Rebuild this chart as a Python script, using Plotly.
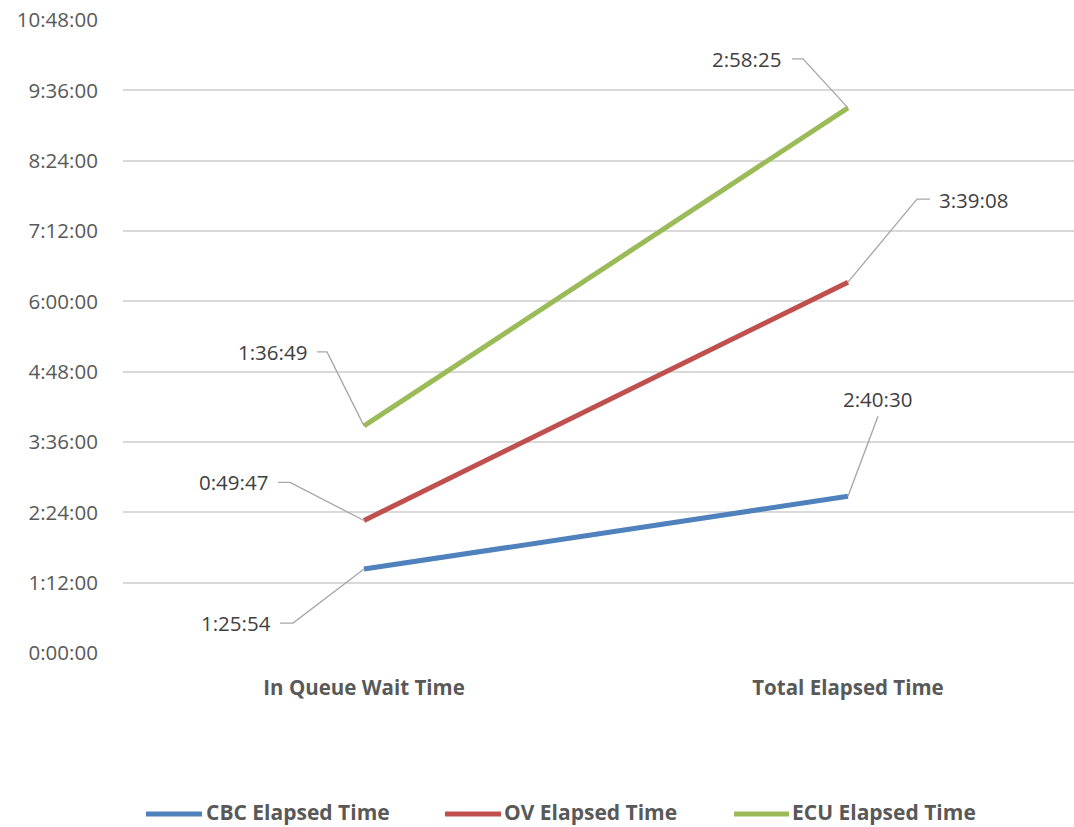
import numpy as np
import plotly.graph_objects as go

# ---- data -------------------------------------------------------------
categories = ["In Queue Wait Time", "Total Elapsed Time"]
series_names = ["CBC Elapsed Time", "OV Elapsed Time", "ECU Elapsed Time"]
cbc_times = ["1:25:54", "2:40:30"]
ov_times = ["0:49:47", "3:39:08"]
ecu_times = ["1:36:49", "2:58:25"]
y_tick_labels = ["0:00:00", "1:12:00", "2:24:00", "3:36:00", "4:48:00",
                 "6:00:00", "7:12:00", "8:24:00", "9:36:00", "10:48:00"]

colors = ["#4F81BD", "#C0504D", "#9BBB59"]
FONT = "Open Sans"


def to_hours(s):
    h, m, sec = (int(p) for p in s.split(":"))
    return h + m / 60 + sec / 3600


series_times = [cbc_times, ov_times, ecu_times]
values = np.array([[to_hours(t) for t in ts] for ts in series_times])
stacked = np.cumsum(values, axis=0)
x_pos = np.arange(len(categories))
y_tick_vals = [to_hours(t) for t in y_tick_labels]

# ---- page geometry (pixels) ---------------------------------------------
W, H = 1074, 827
ML, MR, MT, MB = 123, 0, 20, 174
PW, PH = W - ML - MR, H - MT - MB


def px_to_paper_x(px):
    return (px - ML) / PW


def px_to_paper_y(py):
    return (H - MB - py) / PH


fig = go.Figure()
for name, ts, col in zip(series_names, series_times, colors):
    fig.add_trace(go.Scatter(
        x=x_pos, y=[to_hours(t) for t in ts], name=name,
        mode="lines", stackgroup="elapsed", fill="none",
        line=dict(color=col, width=5),
        showlegend=False, hoverinfo="skip",
    ))

# Data labels with elbow leader lines; offsets in screen pixels (y down)
# (series index, category index): (leader points, text dx, text dy, anchor)
label_style = {
    (2, 0): ([(-47, -74), (-37, -74)], -55, -74, "right"),
    (1, 0): ([(-86, -38), (-74, -38)], -94, -38, "right"),
    (0, 0): ([(-84, 54), (-71, 54)], -91, 54, "right"),
    (2, 1): ([(-56, -49), (-45, -49)], -65, -49, "right"),
    (1, 1): ([(82, -83), (69, -83)], 89, -82, "left"),
    (0, 1): ([(30, -80)], 30, -97, "center"),
}

LABEL_FONT = dict(family=FONT, size=20.5, color="#404040")
for (si, ci), (pts, tdx, tdy, anchor) in label_style.items():
    xv = float(x_pos[ci])
    yv = float(stacked[si, ci])
    path_pts = pts + [(0, 0)]
    path = "M" + " L".join(f"{dx},{-dy}" for dx, dy in path_pts)
    fig.add_shape(type="path", path=path, xref="x", yref="y",
                  xsizemode="pixel", ysizemode="pixel",
                  xanchor=xv, yanchor=yv,
                  line=dict(color="#A6A6A6", width=1.3), layer="above")
    fig.add_annotation(x=xv, y=yv, xref="x", yref="y",
                       text=series_times[si][ci], showarrow=False,
                       xanchor=anchor, yanchor="middle",
                       xshift=tdx, yshift=-tdy, font=LABEL_FONT)

# Legend drawn below the plot
legend_items = [(146, 202, 204), (445, 501, 502), (734, 789, 790)]
leg_y = 812
for (x0, x1, tx), name, col in zip(legend_items, series_names, colors):
    fig.add_shape(type="line", xref="paper", yref="paper",
                  x0=px_to_paper_x(x0), x1=px_to_paper_x(x1),
                  y0=px_to_paper_y(leg_y + 2), y1=px_to_paper_y(leg_y + 2),
                  line=dict(color=col, width=5))
    fig.add_annotation(x=px_to_paper_x(tx), y=px_to_paper_y(leg_y),
                       xref="paper", yref="paper", text=f"<b>{name}</b>",
                       showarrow=False, xanchor="left", yanchor="middle",
                       font=dict(family=FONT, size=21, color="#595959"))

fig.update_layout(
    width=W, height=H,
    margin=dict(l=ML, r=MR, t=MT, b=MB),
    paper_bgcolor="white", plot_bgcolor="white",
    showlegend=False,
    font=dict(family=FONT, color="#595959"),
)
fig.update_xaxes(
    range=[-0.498, 1.467], tickvals=list(x_pos),
    ticktext=[f"<b>{c}</b>" for c in categories],
    tickfont=dict(family=FONT, size=20.5, color="#595959"),
    showgrid=False, zeroline=False, showline=False,
    ticks="outside", ticklen=16, tickcolor="rgba(0,0,0,0)",
)
fig.update_yaxes(
    range=[0, 10.8], tickvals=y_tick_vals, ticktext=y_tick_labels,
    tickfont=dict(family=FONT, size=20.5, color="#595959"),
    showgrid=True, gridcolor="#D9D9D9", gridwidth=1.5,
    zeroline=False, showline=False,
    ticks="outside", ticklen=20, tickcolor="rgba(0,0,0,0)",
)

fig.write_html("out.html")
